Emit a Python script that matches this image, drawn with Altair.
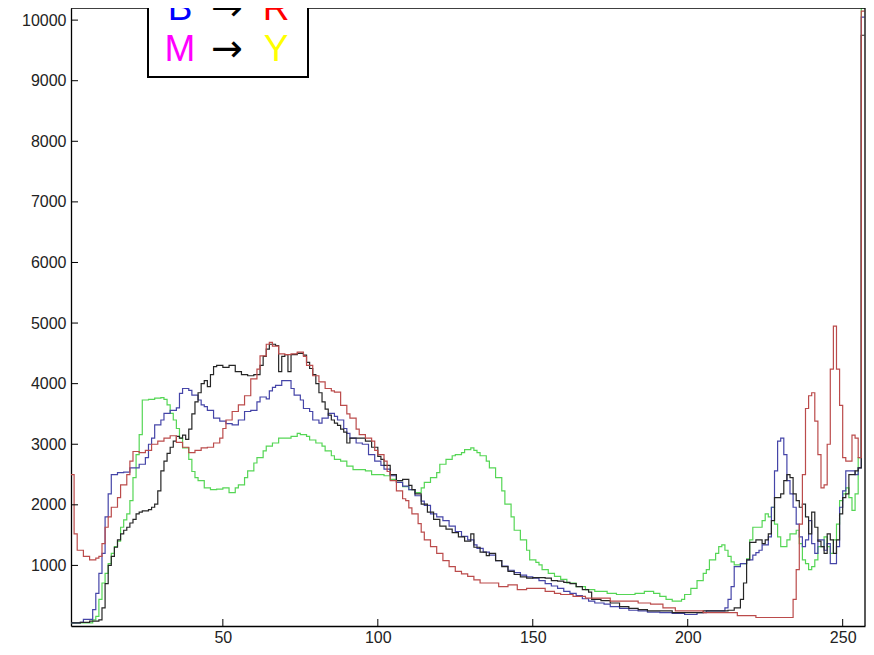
import altair as alt
import pandas as pd

# ---- data (bin index, count) ----
black_x = [1,4,7,10,11,12,13,14,15,16,17,18,19,20,21,22,23,24,26,27,28,29,30,31,32,33,34,35,36,37,38,39,40,41,42,43,44,45,46,47,48,50,52,54,56,58,60,62,63,64,65,67,68,69,70,71,72,74,76,77,78,79,80,81,82,83,84,85,86,87,88,89,90,91,94,96,98,100,101,102,104,106,108,110,111,112,114,116,118,120,122,124,126,128,130,131,133,135,136,138,140,142,144,146,148,150,152,154,156,158,160,162,164,166,168,169,172,175,178,181,184,187,191,195,200,205,210,213,215,217,218,219,220,222,224,225,226,227,228,230,231,232,233,234,235,236,237,238,239,240,241,242,243,244,245,246,247,248,249,250,251,252,254,255,256,257]
black_y = [50,60,80,100,300,700,1000,1150,1300,1420,1520,1580,1630,1700,1760,1850,1880,1900,1920,1960,2010,2230,2560,2720,2850,2950,3050,3130,3100,3150,3080,3250,3500,3700,3850,4000,4050,3950,4150,4280,4300,4270,4300,4200,4150,4130,4150,4300,4450,4570,4650,4630,4200,4450,4480,4200,4480,4500,4470,4350,4250,4150,4000,3850,3700,3580,3480,3400,3350,3310,3250,3200,3020,3100,3100,3050,2950,2800,2750,2650,2500,2400,2420,2320,2250,2180,2010,1880,1760,1650,1600,1540,1470,1400,1520,1300,1220,1160,1200,1080,980,900,850,810,790,800,800,790,750,740,720,700,650,600,560,440,420,380,320,290,270,250,250,220,220,250,250,260,300,440,710,1090,1380,1420,1360,1420,1520,1740,2120,2180,2400,2500,2450,2180,2070,1960,2010,1800,1520,1880,1630,1400,1310,1200,1520,1420,1200,1420,1850,2120,2180,2500,2560,2610,9750,9750]

blue_x = [1,4,5,8,9,10,11,12,13,14,16,18,20,22,23,25,26,27,28,30,31,33,35,36,37,39,40,42,43,44,45,47,49,51,53,55,57,59,61,62,64,65,66,67,69,71,72,73,75,76,78,79,81,82,84,86,87,89,90,91,93,95,97,99,101,102,104,106,108,110,112,114,115,117,119,121,123,125,127,129,131,132,134,136,138,140,142,144,146,148,150,152,154,156,158,160,162,164,166,168,170,173,175,178,181,184,187,191,195,199,203,206,211,212,213,214,215,217,219,221,222,223,224,226,227,228,229,230,231,232,233,234,235,236,237,238,239,240,241,242,244,245,246,248,249,250,251,253,254,255,256,257]
blue_y = [50,60,110,270,540,870,1200,1800,2180,2500,2530,2540,2610,2610,2670,2780,3000,3100,3320,3400,3510,3560,3600,3840,3920,3890,3810,3730,3650,3620,3560,3430,3380,3340,3320,3400,3540,3560,3700,3780,3750,3880,3940,3970,4050,4050,3920,3810,3730,3590,3540,3400,3350,3430,3510,3460,3400,3260,3180,3100,3020,3000,2830,2720,2650,2590,2480,2370,2310,2250,2150,2060,1990,1850,1800,1740,1650,1560,1480,1420,1340,1280,1220,1170,1080,990,920,880,840,810,790,750,700,660,620,570,540,500,450,410,380,360,320,290,260,250,230,220,210,190,220,250,250,300,440,650,980,1030,1090,1170,1210,1250,1340,1470,1960,2560,3050,3100,2830,2400,2180,1960,1680,1470,1310,1420,1740,1360,1200,1420,1250,1360,1030,1310,1960,2230,2560,2560,2500,2610,10050,10050]

red_x = [1,2,3,5,7,9,10,11,12,13,14,16,17,19,20,21,23,25,27,29,31,33,35,37,39,41,43,45,47,49,50,51,53,55,57,59,61,62,64,65,66,68,70,72,74,76,77,79,81,83,85,86,88,90,91,93,94,96,98,99,100,102,103,104,106,108,109,110,111,113,114,115,117,119,121,123,125,127,129,131,133,136,139,142,145,148,151,154,157,159,163,167,172,175,180,184,188,192,196,202,205,214,216,222,233,234,235,236,237,238,239,240,241,242,243,244,245,246,247,248,249,250,251,252,253,254,255,256,257]
red_y = [2500,1520,1250,1150,1090,1120,1150,1360,1630,1800,1960,2120,2330,2500,2720,2880,2860,2900,3000,3050,3100,3140,3030,2950,2860,2900,2940,2950,3020,3100,3260,3400,3540,3650,3800,4080,4240,4460,4650,4680,4620,4490,4480,4490,4520,4450,4300,4130,4030,3920,3880,3860,3640,3500,3430,3250,3160,3100,3050,2900,2830,2720,2550,2400,2230,2100,2070,1950,1850,1690,1550,1420,1310,1200,1080,980,900,860,820,760,710,710,650,680,600,620,620,570,540,520,490,460,460,410,410,380,360,300,250,250,220,220,170,140,140,440,930,1680,2500,3590,3800,3850,3380,2830,2280,2330,3000,4240,4950,4240,3640,2780,2720,2720,3150,3100,2780,10150,10150]

green_x = [1,5,8,9,10,11,12,13,14,15,16,17,18,19,20,21,22,23,24,26,28,30,31,32,33,34,35,36,37,39,40,41,42,44,46,48,50,52,54,55,57,58,60,61,63,64,66,68,70,72,74,75,77,78,80,82,83,85,86,88,90,92,94,96,98,100,102,104,106,108,110,112,114,115,117,119,120,122,124,125,127,128,130,131,132,133,135,136,138,140,141,143,144,146,148,149,151,152,153,155,157,159,161,164,167,170,174,177,183,186,189,191,193,195,198,199,201,203,205,206,207,209,210,211,212,213,214,215,217,219,220,221,223,224,225,226,227,228,229,230,232,233,235,236,237,238,239,240,241,242,244,245,246,247,248,249,250,251,252,253,254,255,256,257]
green_y = [50,50,100,160,440,710,870,1030,1200,1310,1400,1630,1750,1850,2070,2450,2830,3160,3730,3740,3760,3770,3740,3650,3510,3400,3260,3100,2940,2750,2550,2450,2400,2280,2250,2260,2280,2200,2280,2330,2450,2560,2690,2780,2890,2970,3020,3100,3100,3130,3180,3160,3130,3070,3020,2970,2890,2810,2750,2720,2640,2580,2580,2560,2500,2500,2480,2420,2370,2300,2250,2200,2280,2370,2450,2530,2670,2750,2810,2830,2860,2910,2940,2900,2860,2810,2720,2610,2450,2230,2010,1800,1580,1420,1250,1090,1050,1010,930,870,820,770,710,650,600,570,540,520,540,570,540,490,440,410,440,520,620,750,870,930,1090,1200,1310,1340,1250,1150,1060,1010,1030,1110,1420,1630,1630,1740,1850,1800,1960,1680,1470,1310,1420,1520,1580,1360,1090,1030,930,980,1090,1310,1470,1310,1200,1420,1680,2070,2180,2280,2120,1910,2180,2780,10200,10200]

series_names = ["G", "B", "K", "R"]
series_colors = ["#55d655", "#4545a8", "#262626", "#bb4b4b"]

x_ticks = [50, 100, 150, 200, 250]
y_ticks = [1000, 2000, 3000, 4000, 5000, 6000, 7000, 8000, 9000, 10000]

legend_rows = [("B", "#0000ff", "R", "#ff0000"), ("M", "#ff00ff", "Y", "#ffff00")]

# ---- build table ----
rows = []
for name, xs, ys in [("G", green_x, green_y), ("B", blue_x, blue_y),
                     ("K", black_x, black_y), ("R", red_x, red_y)]:
    for xv, yv in zip(xs, ys):
        rows.append({"series": name, "bin": xv, "count": yv,
                     "order": series_names.index(name)})
df = pd.DataFrame(rows)

W, H = 794, 618
FONT = "Liberation Sans"

xscale = alt.Scale(domain=[1, 257.2], nice=False, zero=False)
yscale = alt.Scale(domain=[0, 10200], nice=False, zero=False)

xaxis = alt.Axis(values=x_ticks, ticks=False, grid=False, title=None, format="d",
                 labelFontSize=16, labelFont=FONT, labelColor="#222",
                 labelPadding=3, domainColor="#000", domainWidth=1.3)
yaxis = alt.Axis(values=y_ticks, ticks=False, grid=False, title=None, format="d",
                 labelFontSize=16, labelFont=FONT, labelColor="#222",
                 labelPadding=5, domainColor="#000", domainWidth=1.3)

lines = alt.Chart(df).mark_line(interpolate="step-after", clip=True, strokeWidth=1.2).encode(
    x=alt.X("bin:Q", scale=xscale, axis=xaxis),
    y=alt.Y("count:Q", scale=yscale, axis=yaxis),
    color=alt.Color("series:N", scale=alt.Scale(domain=series_names, range=series_colors), legend=None),
    order="order:Q",
    detail="series:N",
)

top_rule = alt.Chart(pd.DataFrame({"a": [0]})).mark_rule(color="#000", strokeWidth=1.3).encode(
    x=alt.value(0), x2=alt.value(W), y=alt.value(0))
right_rule = alt.Chart(pd.DataFrame({"a": [0]})).mark_rule(color="#000", strokeWidth=1.3).encode(
    x=alt.value(W), y=alt.value(0), y2=alt.value(H))

yt = alt.Chart(pd.DataFrame({"bin": [1] * len(y_ticks), "count": y_ticks})).mark_rule(
    color="#000", strokeWidth=1).encode(
    y=alt.Y("count:Q", scale=yscale, axis=yaxis), x=alt.value(0), x2=alt.value(7))
xt = alt.Chart(pd.DataFrame({"bin": x_ticks, "count": [0] * len(x_ticks)})).mark_rule(
    color="#000", strokeWidth=1).encode(
    x=alt.X("bin:Q", scale=xscale, axis=xaxis), y=alt.value(H), y2=alt.value(H - 7))

box = alt.Chart(pd.DataFrame({"a": [0]})).mark_rect(
    fill="white", stroke="#000", strokeWidth=2, clip=False).encode(
    x=alt.value(77), x2=alt.value(237), y=alt.value(-60), y2=alt.value(69))

texts = []
row_base = [12, 53]
for (l, lc, r, rc), yb in zip(legend_rows, row_base):
    for t, c, xp, fs, f in [(l, lc, 109, 37, FONT), ("\u2192", "#000", 156, 38, "DejaVu Sans"),
                            (r, rc, 205, 37, FONT)]:
        texts.append(alt.Chart(pd.DataFrame({"t": [t]})).mark_text(
            fontSize=fs, font=f, color=c, align="center", baseline="alphabetic").encode(
            text="t:N", x=alt.value(xp), y=alt.value(yb)))

chart = alt.layer(lines, top_rule, right_rule, yt, xt, box, *texts).properties(
    width=W, height=H,
    autosize=alt.AutoSizeParams(type="none"),
    padding={"left": 63, "top": 0, "right": 1, "bottom": 20},
    background="white",
).configure_view(stroke=None)

chart.save("out.html", embed_options={"renderer": "svg", "actions": False})
